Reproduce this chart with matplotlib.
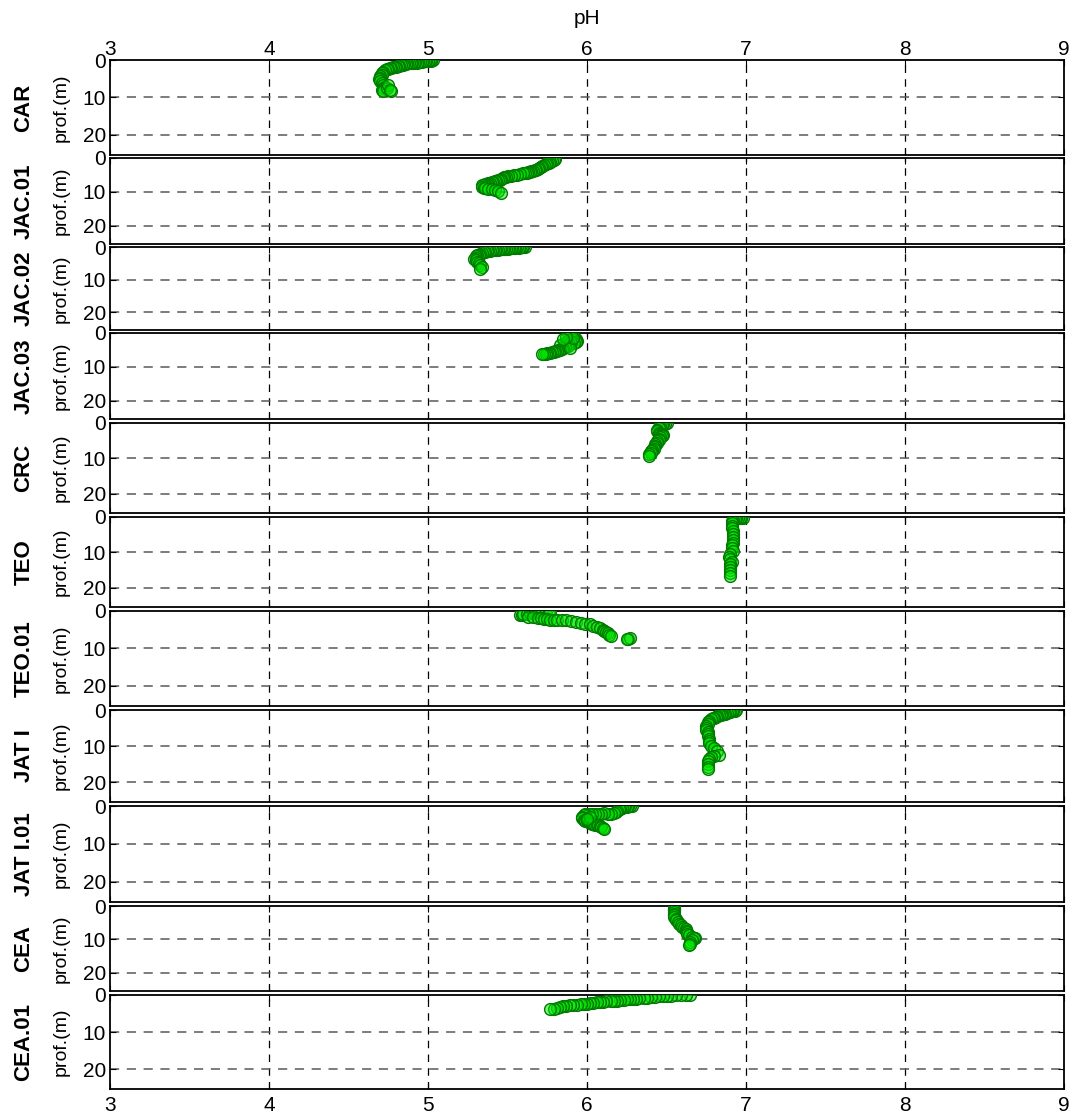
import matplotlib
matplotlib.use("Agg")
import matplotlib.pyplot as plt

plt.rcParams["font.family"] = ["Liberation Sans", "DejaVu Sans"]

# station names (top to bottom)
stations = ["CAR", "JAC.01", "JAC.02", "JAC.03", "CRC", "TEO",
            "TEO.01", "JAT I", "JAT I.01", "CEA", "CEA.01"]

# pH / depth (m) read from the profiles
ph_car = [5.03, 5.02, 5.01, 5.00, 4.99, 4.98, 4.97, 4.96, 4.95, 4.94,
          4.93, 4.92, 4.91, 4.90, 4.89, 4.88, 4.87, 4.86, 4.85, 4.84,
          4.83, 4.82, 4.81, 4.80, 4.79, 4.78, 4.77, 4.76, 4.75, 4.74,
          4.73, 4.72, 4.71, 4.71, 4.70, 4.70, 4.69, 4.70, 4.71, 4.72,
          4.73, 4.72, 4.71, 4.72, 4.74, 4.75, 4.77, 4.76]
d_car = [0.1, 0.2, 0.1, 0.3, 0.2, 0.3, 0.4, 0.5, 0.6, 0.5,
         0.7, 0.6, 0.7, 0.8, 0.8, 0.9, 0.9, 1.0, 1.1, 1.3,
         1.4, 1.5, 1.6, 1.8, 1.9, 2.0, 2.1, 2.2, 2.3, 2.5,
         2.8, 3.1, 3.5, 3.9, 4.4, 4.8, 5.2, 5.6, 6.1, 6.6,
         7.1, 7.6, 8.1, 8.4, 7.4, 6.6, 8.2, 7.9]

ph_jac01 = [5.80, 5.79, 5.78, 5.77, 5.76, 5.75, 5.74, 5.73, 5.72, 5.71,
            5.70, 5.69, 5.68, 5.67, 5.66, 5.65, 5.64, 5.63, 5.62, 5.61,
            5.60, 5.58, 5.56, 5.54, 5.52, 5.50, 5.49, 5.48, 5.47, 5.46,
            5.45, 5.44, 5.43, 5.42, 5.41, 5.40, 5.39, 5.38, 5.37, 5.36,
            5.35, 5.34, 5.34, 5.35, 5.36, 5.38, 5.40, 5.42, 5.44, 5.46]
d_jac01 = [0.3, 0.5, 0.8, 1.1, 1.4, 1.6, 1.9, 2.2, 2.4, 2.7,
           3.0, 3.2, 3.4, 3.6, 3.7, 3.9, 4.0, 4.1, 4.3, 4.4,
           4.5, 4.7, 4.9, 5.0, 5.2, 5.4, 5.5, 5.7, 5.9, 6.1,
           6.4, 6.6, 6.8, 6.9, 7.0, 7.1, 7.3, 7.4, 7.6, 7.8,
           8.0, 8.1, 8.5, 8.8, 9.0, 9.1, 9.3, 9.4, 9.6, 10.2]

ph_jac02 = [5.61, 5.60, 5.59, 5.58, 5.57, 5.56, 5.55, 5.54, 5.53, 5.52,
            5.51, 5.50, 5.49, 5.48, 5.47, 5.46, 5.45, 5.44, 5.43, 5.42,
            5.41, 5.40, 5.39, 5.38, 5.37, 5.36, 5.35, 5.34, 5.33, 5.32,
            5.31, 5.30, 5.30, 5.29, 5.30, 5.31, 5.32, 5.33, 5.34, 5.33]
d_jac02 = [0.1, 0.1, 0.0, 0.1, 0.2, 0.1, 0.2, 0.3, 0.3, 0.4,
           0.4, 0.5, 0.5, 0.6, 0.6, 0.7, 0.7, 0.8, 0.8, 0.9,
           0.9, 1.0, 1.1, 1.2, 1.3, 1.4, 1.6, 1.8, 2.0, 2.3,
           2.6, 2.9, 3.3, 3.7, 4.1, 4.5, 5.0, 5.5, 6.0, 6.8]

ph_jac03 = [5.88, 5.89, 5.90, 5.91, 5.92, 5.93, 5.94, 5.93, 5.92, 5.90,
            5.89, 5.88, 5.87, 5.86, 5.87, 5.88, 5.86, 5.85, 5.84, 5.83,
            5.83, 5.82, 5.81, 5.80, 5.79, 5.78, 5.77, 5.76, 5.75, 5.74,
            5.73, 5.72, 5.89, 5.91, 5.87, 5.85]
d_jac03 = [0.1, 0.3, 0.6, 1.0, 1.3, 1.8, 2.3, 2.8, 3.0, 2.7,
           2.5, 2.6, 2.8, 3.0, 3.4, 3.7, 4.0, 4.3, 4.6, 4.9,
           3.5, 5.1, 5.2, 5.4, 5.5, 5.6, 5.8, 5.9, 6.0, 6.1,
           6.2, 6.2, 4.4, 1.6, 1.2, 1.8]

ph_crc = [6.50, 6.49, 6.48, 6.47, 6.46, 6.45, 6.45, 6.44, 6.44, 6.45,
          6.46, 6.47, 6.48, 6.47, 6.46, 6.45, 6.45, 6.44, 6.44, 6.43,
          6.43, 6.42, 6.42, 6.41, 6.40, 6.40, 6.39, 6.39]
d_crc = [0.1, 0.2, 0.3, 0.5, 0.8, 1.1, 1.5, 1.9, 2.3, 2.7,
         3.0, 3.2, 3.4, 3.7, 4.0, 4.4, 4.8, 5.2, 5.6, 6.0,
         6.4, 6.8, 7.2, 7.6, 8.0, 8.4, 8.8, 9.2]

ph_teo = [6.98, 6.97, 6.96, 6.95, 6.94, 6.93, 6.92, 6.91, 6.91, 6.91,
          6.91, 6.92, 6.92, 6.92, 6.92, 6.92, 6.91, 6.91, 6.92, 6.90,
          6.89, 6.90, 6.91, 6.90, 6.90, 6.90, 6.90, 6.90]
d_teo = [0.4, 0.3, 0.4, 0.3, 0.4, 0.5, 0.8, 1.2, 1.8, 2.5,
         3.2, 4.0, 4.8, 5.6, 6.4, 7.2, 8.0, 8.8, 9.6, 10.4,
         11.2, 11.9, 12.6, 13.4, 14.2, 15.0, 15.8, 16.6]

ph_teo01 = [5.58, 5.59, 5.60, 5.62, 5.64, 5.66, 5.68, 5.70, 5.72, 5.74,
            5.76, 5.77, 5.63, 5.66, 5.69, 5.71, 5.73, 5.75, 5.77, 5.79,
            5.81, 5.84, 5.87, 5.90, 5.93, 5.96, 5.99, 6.02, 6.04, 6.06,
            6.08, 6.10, 6.11, 6.12, 6.13, 6.14, 6.15, 6.26, 6.27, 6.25]
d_teo01 = [1.1, 1.0, 0.9, 0.8, 0.6, 0.4, 0.2, 0.1, 0.0, 0.1,
           0.1, 0.3, 1.5, 1.7, 1.9, 2.0, 2.1, 2.2, 2.3, 2.4,
           2.4, 2.5, 2.5, 2.7, 3.0, 3.2, 3.4, 3.6, 3.9, 4.2,
           4.6, 5.0, 5.3, 5.7, 6.0, 6.3, 6.6, 7.4, 7.1, 7.6]

ph_jati = [6.94, 6.93, 6.92, 6.91, 6.90, 6.89, 6.88, 6.87, 6.86, 6.85,
           6.84, 6.83, 6.82, 6.81, 6.80, 6.79, 6.78, 6.77, 6.76, 6.76,
           6.75, 6.75, 6.75, 6.76, 6.76, 6.76, 6.77, 6.77, 6.77, 6.78,
           6.80, 6.82, 6.83, 6.80, 6.78, 6.77, 6.76, 6.76, 6.76, 6.76]
d_jati = [0.1, 0.2, 0.3, 0.4, 0.5, 0.6, 0.8, 1.0, 1.1, 1.2,
          1.3, 1.5, 1.7, 1.9, 2.1, 2.3, 2.6, 2.9, 3.3, 3.8,
          4.3, 4.9, 5.5, 6.1, 6.7, 7.3, 7.9, 8.5, 9.2, 9.9,
          10.6, 11.4, 12.4, 12.8, 13.0, 13.5, 14.2, 14.9, 15.6, 16.3]

ph_jati01 = [6.28, 6.27, 6.26, 6.25, 6.24, 6.23, 6.22, 6.21, 6.20, 6.19,
             6.18, 6.17, 6.15, 6.13, 6.11, 6.09, 6.07, 6.05, 6.03, 6.01,
             5.99, 5.98, 5.97, 5.97, 5.98, 5.99, 6.00, 6.01, 6.02, 6.03,
             6.04, 6.05, 6.06, 6.07, 6.08, 6.09, 6.10, 6.11, 6.02, 6.00]
d_jati01 = [0.0, 0.1, 0.0, 0.2, 0.1, 0.3, 0.5, 0.7, 0.9, 1.2,
            1.5, 1.8, 2.0, 2.0, 1.9, 2.0, 2.0, 2.1, 2.0, 2.1,
            2.2, 2.4, 2.8, 3.2, 3.6, 3.9, 4.1, 4.3, 4.5, 4.7,
            4.8, 4.9, 5.0, 5.1, 5.3, 5.5, 5.7, 6.0, 3.0, 3.5]

ph_cea = [6.55, 6.55, 6.55, 6.55, 6.55, 6.55, 6.55, 6.55, 6.56, 6.56,
          6.57, 6.58, 6.59, 6.60, 6.61, 6.62, 6.62, 6.63, 6.63, 6.64,
          6.66, 6.68, 6.67, 6.66, 6.65, 6.65, 6.64]
d_cea = [0.1, 0.5, 0.9, 1.3, 1.8, 2.3, 2.8, 3.3, 3.8, 4.3,
         4.8, 5.3, 5.8, 6.2, 6.6, 7.0, 7.4, 7.8, 8.3, 8.8,
         9.2, 9.5, 9.7, 10.2, 10.8, 11.4, 11.8]

ph_cea01 = [6.65, 6.62, 6.59, 6.56, 6.53, 6.50, 6.48, 6.45, 6.43, 6.40,
            6.38, 6.36, 6.33, 6.31, 6.29, 6.27, 6.25, 6.23, 6.21, 6.19,
            6.17, 6.15, 6.12, 6.10, 6.08, 6.06, 6.04, 6.02, 6.00, 5.98,
            5.96, 5.94, 5.91, 5.89, 5.87, 5.85, 5.83, 5.81, 5.79, 5.77]
d_cea01 = [0.0, 0.0, 0.0, 0.1, 0.2, 0.3, 0.3, 0.4, 0.5, 0.6,
           0.7, 0.8, 0.9, 1.0, 1.1, 1.2, 1.2, 1.3, 1.4, 1.5,
           1.6, 1.6, 1.7, 1.8, 1.9, 2.0, 2.1, 2.2, 2.3, 2.4,
           2.5, 2.6, 2.7, 2.8, 3.0, 3.1, 3.3, 3.5, 3.7, 3.9]

ph_all = [ph_car, ph_jac01, ph_jac02, ph_jac03, ph_crc, ph_teo,
          ph_teo01, ph_jati, ph_jati01, ph_cea, ph_cea01]
d_all = [d_car, d_jac01, d_jac02, d_jac03, d_crc, d_teo,
         d_teo01, d_jati, d_jati01, d_cea, d_cea01]

ph_ticks = [3, 4, 5, 6, 7, 8, 9]
depth_ticks = [0, 10, 20]

# panel top/bottom in pixels (figure is 1074 x 1120)
W, H = 1074, 1120
panel_px = [(60, 155), (158, 244), (247, 330), (333, 419), (423, 513), (517, 607),
            (611, 706), (710, 802), (806, 902), (906, 991), (995, 1089)]
left_px, right_px = 110, 1064

fig = plt.figure(figsize=(W / 100, H / 100), dpi=100)

for i, (name, ph, dep) in enumerate(zip(stations, ph_all, d_all)):
    top, bot = panel_px[i]
    ax = fig.add_axes([left_px / W, 1 - bot / H, (right_px - left_px) / W, (bot - top) / H])

    # grid: vertical black, horizontal grey dashed
    for xv in ph_ticks[1:-1]:
        ax.axvline(xv, color="black", lw=0.9, ls=(0, (6, 5)), zorder=0)
    for yv in depth_ticks[1:]:
        ax.axhline(yv, color="0.35", lw=1.1, ls=(0, (6, 5)), zorder=0)

    ax.plot(ph, dep, ls="none", marker="o", ms=8.5, mew=1.0,
            mfc=(0.0, 0.9, 0.0, 0.5), mec=(0.0, 0.48, 0.0), zorder=3)

    ax.set_xlim(3, 9)
    ax.set_ylim(25.4, 0)
    ax.set_xticks(ph_ticks)
    ax.set_yticks(depth_ticks)
    ax.tick_params(direction="in", length=4, width=0.8, labelsize=15,
                   top=True, right=True, pad=3)
    for s in ax.spines.values():
        s.set_linewidth(1.3)

    if i == 0:
        ax.xaxis.tick_top()
        ax.tick_params(axis="x", labeltop=True, labelbottom=False, bottom=True, pad=1)
        ax.set_xlabel("pH", fontsize=15, labelpad=11)
        ax.xaxis.set_label_position("top")
    elif i == len(stations) - 1:
        ax.tick_params(axis="x", labelbottom=True, labeltop=False, pad=5)
    else:
        ax.tick_params(axis="x", labelbottom=False, labeltop=False)

    ax.set_ylabel("prof.(m)", fontsize=14, labelpad=9)
    fig.text(24 / W, 1 - (top + bot) / 2 / H, name, rotation=90, fontsize=16,
             fontweight="bold", ha="center", va="center")

fig.savefig("out.png", dpi=100)
